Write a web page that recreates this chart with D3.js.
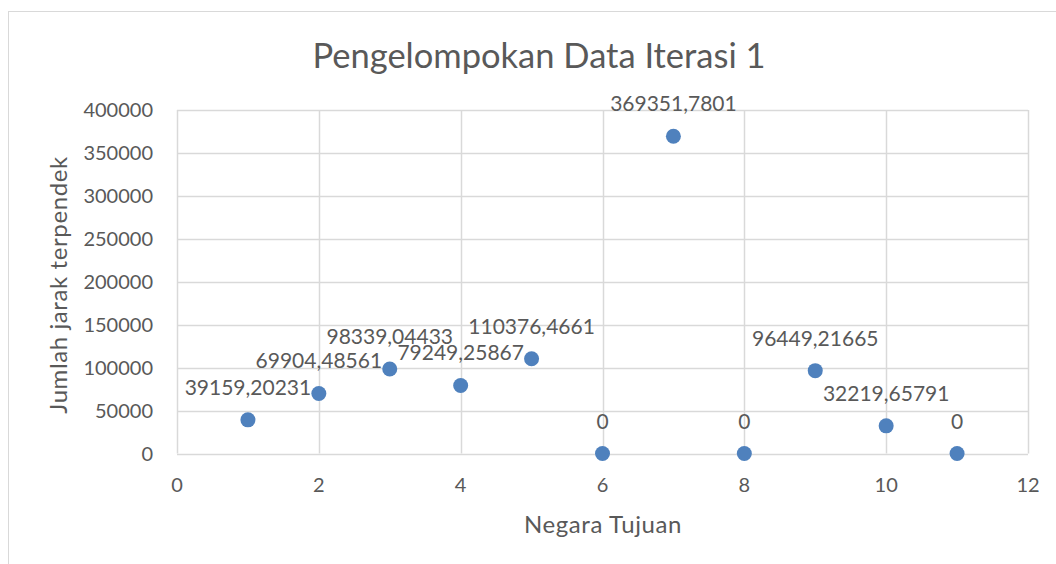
<!DOCTYPE html>
<html><head><meta charset="utf-8">
<script src="https://cdn.jsdelivr.net/npm/d3@7"></script>
<style>body{margin:0;background:#fff}svg{display:block}text{font-family:Lato,"Open Sans",sans-serif;fill:#595959}</style>
</head><body>
<svg id="c" width="1056" height="564"></svg>
<script>
const xValues = [1,2,3,4,5,6,7,8,9,10,11];
const yValues = [39159.20231,69904.48561,98339.04433,79249.25867,110376.4661,0,369351.7801,0,96449.21665,32219.65791,0];
const labels = ["39159,20231","69904,48561","98339,04433","79249,25867","110376,4661","0","369351,7801","0","96449,21665","32219,65791","0"];
const xTicks = [0,2,4,6,8,10,12];
const yTicks = [0,50000,100000,150000,200000,250000,300000,350000,400000];
const title = "Pengelompokan Data Iterasi 1";
const xTitle = "Negara Tujuan";
const yTitle = "Jumlah jarak terpendek";

const svg = d3.select("#c");
const L=177, R=1028, T=110, B=453.5;
const x = d3.scaleLinear().domain([0,12]).range([L,R]);
const y = d3.scaleLinear().domain([0,400000]).range([B,T]);

svg.append("rect").attr("x",8.5).attr("y",11.5).attr("width",1200).attr("height",700)
  .attr("fill","#fff").attr("stroke","#d9d9d9").attr("stroke-width",1);

svg.append("text").attr("x",539).attr("y",68).attr("text-anchor","middle")
  .style("font-size","34.5px").text(title);

const g = svg.append("g");
g.selectAll(".hg").data(yTicks).join("line")
  .attr("x1",L).attr("x2",R).attr("y1",d=>Math.round(y(d))+0.5).attr("y2",d=>Math.round(y(d))+0.5)
  .attr("stroke","#d9d9d9").attr("stroke-width",1.5);
g.selectAll(".vg").data(xTicks).join("line")
  .attr("y1",T).attr("y2",B).attr("x1",d=>Math.round(x(d))+0.5).attr("x2",d=>Math.round(x(d))+0.5)
  .attr("stroke","#d9d9d9").attr("stroke-width",1.5);

g.selectAll(".yl").data(yTicks).join("text")
  .attr("x",153).attr("y",d=>y(d)).attr("dy","0.36em").attr("text-anchor","end")
  .style("font-size","20px").text(d=>d);
g.selectAll(".xl").data(xTicks).join("text")
  .attr("x",d=>x(d)).attr("y",492).attr("text-anchor","middle")
  .style("font-size","20px").text(d=>d);

svg.append("text").attr("x",603).attr("y",533).attr("text-anchor","middle")
  .style("font-size","24px").style("letter-spacing","0.6px").text(xTitle);
svg.append("text").attr("transform","translate(67,285) rotate(-90)").attr("text-anchor","middle")
  .style("font-size","24px").style("letter-spacing","0.6px").text(yTitle);

g.selectAll("circle").data(xValues).join("circle")
  .attr("cx",(d,i)=>x(d)).attr("cy",(d,i)=>y(yValues[i])).attr("r",7.5).attr("fill","#4f81bd");
g.selectAll(".dl").data(xValues).join("text")
  .attr("x",(d,i)=>x(d)).attr("y",(d,i)=>y(yValues[i])-25).attr("text-anchor","middle")
  .style("font-size","21px").text((d,i)=>labels[i]);
</script>
</body></html>
